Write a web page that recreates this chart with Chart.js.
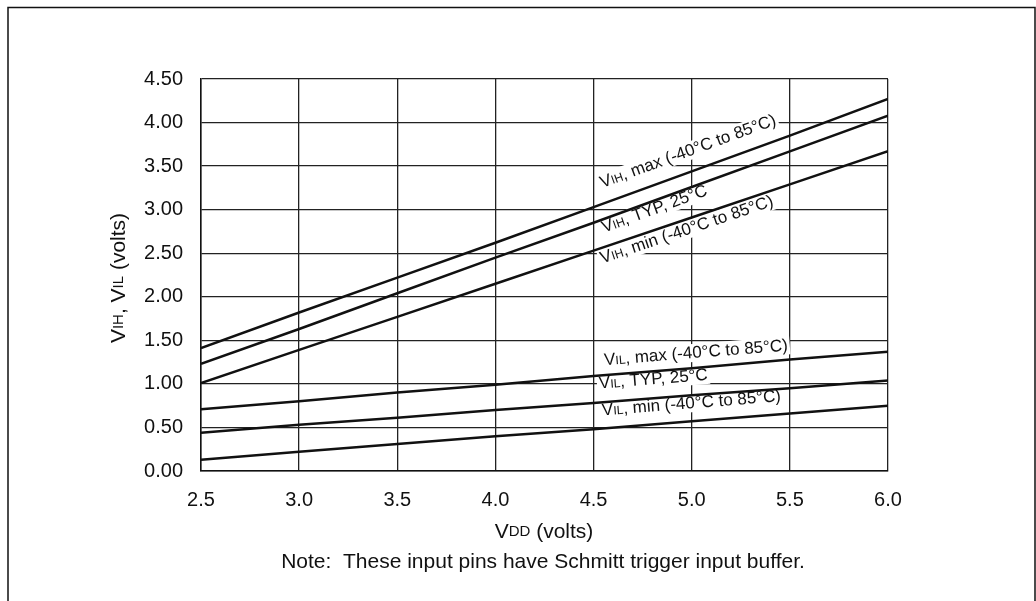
<!DOCTYPE html>
<html>
<head>
<meta charset="utf-8">
<script src="https://cdn.jsdelivr.net/npm/chart.js@4.4.0/dist/chart.umd.min.js"></script>
<style>
  html, body { margin: 0; padding: 0; background: #fff; }
  #wrap { width: 1036px; height: 601px; position: relative; }
</style>
</head>
<body>
<div id="wrap"><canvas id="thresholdChart"></canvas></div>
<script>
// VDD (volts) sample points
const vdd = [2.5, 3.0, 3.5, 4.0, 4.5, 5.0, 5.5, 6.0];

// input high thresholds (volts)
const vihMax = [1.41, 1.82, 2.22, 2.62, 3.03, 3.44, 3.85, 4.27];
const vihTyp = [1.23, 1.63, 2.04, 2.45, 2.85, 3.26, 3.67, 4.08];
const vihMin = [1.01, 1.39, 1.77, 2.15, 2.53, 2.91, 3.29, 3.67];

// input low thresholds (volts)
const vilMax = [0.71, 0.80, 0.90, 0.99, 1.09, 1.18, 1.28, 1.37];
const vilTyp = [0.44, 0.53, 0.61, 0.70, 0.78, 0.87, 0.95, 1.04];
const vilMin = [0.13, 0.22, 0.31, 0.40, 0.48, 0.57, 0.66, 0.75];

const xTickLabels = ['2.5', '3.0', '3.5', '4.0', '4.5', '5.0', '5.5', '6.0'];
const yTickLabels = ['0.00', '0.50', '1.00', '1.50', '2.00', '2.50', '3.00', '3.50', '4.00', '4.50'];

const FONT = '"Liberation Sans", Arial, Helvetica, sans-serif';

// text pieces: [text, px size] so the I/H/L/D subscripts come out small
const seriesLabels = [
    { data: vihMax, parts: [['V', 17], ['IH', 12], [', max (-40°C to 85°C)', 17]] },
    { data: vihTyp, parts: [['V', 17], ['IH', 12], [', TYP, 25°C', 17]] },
    { data: vihMin, parts: [['V', 17], ['IH', 12], [', min (-40°C to 85°C)', 17]] },
    { data: vilMax, parts: [['V', 17], ['IL', 12], [', max (-40°C to 85°C)', 17]] },
    { data: vilTyp, parts: [['V', 17], ['IL', 12], [', TYP, 25°C', 17]] },
    { data: vilMin, parts: [['V', 17], ['IL', 12], [', min (-40°C to 85°C)', 17]] }
];

// where each label sits: x value along the line, baseline offset (px, + = below line)
const labelPlacement = [
    { at: 4.57, off: -15 },
    { at: 4.53, off: 13 },
    { at: 4.52, off: 15 },
    { at: 4.56, off: -10 },
    { at: 4.535, off: -14 },
    { at: 4.55, off: -13 }
];

function richWidth(ctx, parts) {
    let w = 0;
    parts.forEach(([t, size]) => {
        ctx.font = size + 'px ' + FONT;
        w += ctx.measureText(t).width;
    });
    return w;
}

function drawRich(ctx, parts, x, y) {
    let cx = x;
    parts.forEach(([t, size]) => {
        ctx.font = size + 'px ' + FONT;
        ctx.fillText(t, cx, y);
        cx += ctx.measureText(t).width;
    });
}

const decorations = {
    id: 'decorations',
    beforeDraw(chart) {
        const ctx = chart.ctx;
        ctx.save();
        ctx.fillStyle = '#fff';
        ctx.fillRect(0, 0, chart.width, chart.height);
        // outer frame
        ctx.strokeStyle = '#111';
        ctx.lineWidth = 1.5;
        ctx.beginPath();
        ctx.moveTo(8, 601);
        ctx.lineTo(8, 7.5);
        ctx.lineTo(1035, 7.5);
        ctx.lineTo(1035, 601);
        ctx.stroke();
        ctx.restore();
    },
    beforeDatasetsDraw(chart) {
        const ctx = chart.ctx;
        const xs = chart.scales.x;
        ctx.save();
        ctx.fillStyle = '#111';
        ctx.textBaseline = 'alphabetic';
        seriesLabels.forEach((lab, i) => {
            const place = labelPlacement[i];
            const pts = chart.getDatasetMeta(i).data;
            const px = xs.getPixelForValue(place.at);
            let k = 0;
            while (k < pts.length - 2 && pts[k + 1].x < px) k++;
            const a = pts[k], b = pts[k + 1];
            const py = a.y + (b.y - a.y) * (px - a.x) / (b.x - a.x);
            const ang = Math.atan2(b.y - a.y, b.x - a.x);
            const w = richWidth(ctx, lab.parts);
            ctx.save();
            ctx.translate(px, py);
            ctx.rotate(ang);
            ctx.fillStyle = '#fff';
            ctx.fillRect(-2, place.off - 14, w + 4, 18);
            ctx.fillStyle = '#111';
            drawRich(ctx, lab.parts, 0, place.off);
            ctx.restore();
        });
        ctx.restore();
    },
    afterDraw(chart) {
        const ctx = chart.ctx;
        ctx.save();
        ctx.fillStyle = '#111';
        ctx.textBaseline = 'middle';

        const yTitle = [['V', 21], ['IH', 15], [', V', 21], ['IL', 15], [' (volts)', 21]];
        ctx.save();
        ctx.translate(119, 278);
        ctx.rotate(-Math.PI / 2);
        drawRich(ctx, yTitle, -richWidth(ctx, yTitle) / 2, 0);
        ctx.restore();

        const xTitle = [['V', 21], ['DD', 15], [' (volts)', 21]];
        drawRich(ctx, xTitle, 544 - richWidth(ctx, xTitle) / 2, 532);

        const note = [['Note:  These input pins have Schmitt trigger input buffer.', 21]];
        drawRich(ctx, note, 543 - richWidth(ctx, note) / 2, 562);
        ctx.restore();
    }
};

const ctx = document.getElementById('thresholdChart').getContext('2d');
new Chart(ctx, {
    type: 'line',
    data: {
        datasets: seriesLabels.map(s => ({
            data: vdd.map((v, i) => ({ x: v, y: s.data[i] })),
            borderColor: '#111',
            borderWidth: 2.5,
            pointRadius: 0,
            fill: false,
            tension: 0
        }))
    },
    options: {
        responsive: true,
        maintainAspectRatio: false,
        animation: false,
        layout: { padding: { left: 0, right: 148, top: 79, bottom: 0 } },
        plugins: {
            legend: { display: false },
            tooltip: { enabled: false }
        },
        scales: {
            x: {
                type: 'linear',
                min: 2.5,
                max: 6.0,
                afterBuildTicks: s => { s.ticks = vdd.map(v => ({ value: v })); },
                afterFit: s => { s.height = 130; },
                grid: { color: '#222', lineWidth: 1.3, drawTicks: false },
                border: { color: '#111', width: 1.5 },
                ticks: {
                    color: '#111',
                    padding: 17,
                    maxRotation: 0,
                    font: { family: FONT, size: 20 },
                    callback: (v, i) => xTickLabels[i]
                }
            },
            y: {
                type: 'linear',
                min: 0,
                max: 4.5,
                afterBuildTicks: s => { s.ticks = yTickLabels.map(t => ({ value: parseFloat(t) })); },
                afterFit: s => { s.width = 201; },
                grid: { color: '#222', lineWidth: 1.3, drawTicks: false },
                border: { color: '#111', width: 1.5 },
                ticks: {
                    color: '#111',
                    padding: 18,
                    font: { family: FONT, size: 20 },
                    callback: (v, i) => yTickLabels[i]
                }
            }
        }
    },
    plugins: [decorations]
});
</script>
</body>
</html>
